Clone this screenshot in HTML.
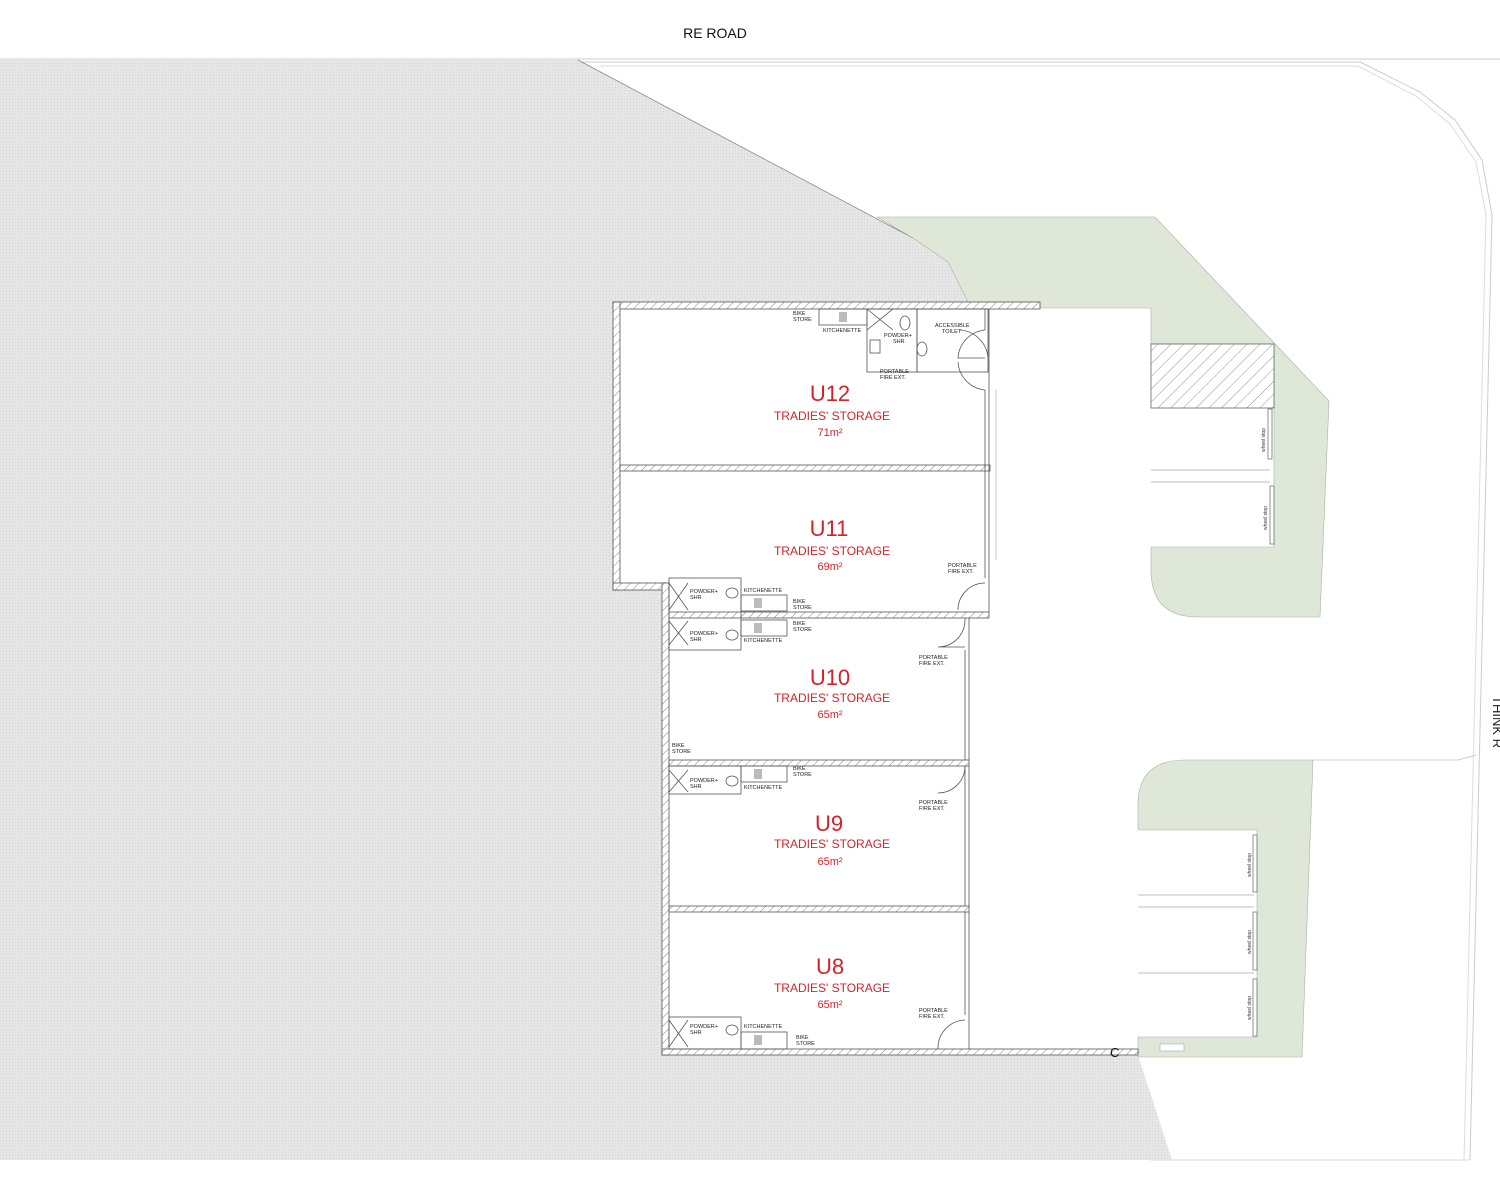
<!DOCTYPE html>
<html><head><meta charset="utf-8"><style>
html,body{margin:0;padding:0;background:#fff;}
svg{display:block;}
text{font-family:"Liberation Sans",sans-serif;}
.s{font-size:5.5px;fill:#222;}
.u{font-size:22px;fill:#d2232a;}
.t{font-size:12px;fill:#d2232a;}
.a{font-size:11px;fill:#d2232a;}
</style></head><body>
<svg width="1500" height="1200" viewBox="0 0 1500 1200" xmlns="http://www.w3.org/2000/svg">
<defs>
<pattern id="h" width="6" height="6" patternUnits="userSpaceOnUse" patternTransform="rotate(45)">
<rect width="6" height="6" fill="#fff"/><line x1="0" y1="0" x2="0" y2="6" stroke="#666" stroke-width="0.8"/>
</pattern>
<pattern id="hb" width="9" height="9" patternUnits="userSpaceOnUse" patternTransform="rotate(45)">
<rect width="9" height="9" fill="#fff"/><line x1="0" y1="0" x2="0" y2="9" stroke="#777" stroke-width="0.8"/>
</pattern>
<pattern id="g" width="3" height="3" patternUnits="userSpaceOnUse">
<rect width="3" height="3" fill="#e6e6e6"/><rect width="1" height="1" fill="#d4d4d4"/>
</pattern>
</defs>
<rect width="1500" height="1200" fill="#fff"/>
<text x="715" y="38" font-size="14" text-anchor="middle" fill="#111">RE ROAD</text>
<line x1="0" y1="59" x2="1500" y2="59" stroke="#ccc" stroke-width="1"/>
<path d="M580 62 L1360 62 L1420 92 L1455 120 L1482 160 L1492 215 L1470 1160" fill="none" stroke="#ccc" stroke-width="1"/>
<path d="M600 66 L1358 66 L1416 96 L1450 124 L1476 162 L1486 215 L1464 1160" fill="none" stroke="#ddd" stroke-width="1"/>
<path d="M1313 760 L1458 760 L1476 755" fill="none" stroke="#ccc" stroke-width="1"/>
<line x1="1150" y1="1160" x2="1470" y2="1160" stroke="#ddd"/>
<text transform="translate(1493,696) rotate(90)" font-size="13" fill="#222">THINK R</text>
<polygon points="0,60 578,60 913,238 948,262 968,302 613,302 613,590 662,590 662,1055 1138,1055 1172,1160 0,1160" fill="url(#g)"/>
<line x1="578" y1="60" x2="913" y2="238" stroke="#888" stroke-width="0.8"/>
<path d="M877,217 L1155,217 L1329,401 L1320,617 L1198,617 Q1151,617 1151,570 L1151,547 L1274,547 L1274,344 L1151,344 L1151,308 L1040,308 L1040,302 L968,302 L948,262 L913,238 Z" fill="#dfe8d8" stroke="#a9b0a4" stroke-width="0.6"/>
<rect x="1151" y="344" width="123" height="64" fill="url(#hb)" stroke="#666" stroke-width="0.8"/>
<path d="M1138,830 L1138,805 Q1138,760 1185,760 L1313,760 L1302,1057 L1138,1057 L1138,1037 L1257,1037 L1257,830 Z" fill="#dfe8d8" stroke="#a9b0a4" stroke-width="0.6"/>
<rect x="1160" y="1044" width="24" height="7" fill="#fff" stroke="#aaa" stroke-width="0.6"/>
<g stroke="#aaa" stroke-width="0.8">
<line x1="1151" y1="470" x2="1270" y2="470"/><line x1="1151" y1="482" x2="1270" y2="482"/>
<line x1="1138" y1="895" x2="1254" y2="895"/><line x1="1138" y1="907" x2="1254" y2="907"/>
<line x1="1138" y1="973" x2="1254" y2="973"/>
</g>
<g fill="none" stroke="#777" stroke-width="0.8">
<rect x="1268" y="409" width="4" height="50"/><rect x="1270" y="486" width="4" height="58"/>
<rect x="1253" y="835" width="4" height="57"/><rect x="1253" y="912" width="4" height="58"/><rect x="1253" y="979" width="4" height="57"/>
</g>
<g font-size="5" fill="#333">
<text transform="translate(1265,440) rotate(-90)" text-anchor="middle">wheel stop</text>
<text transform="translate(1267,518) rotate(-90)" text-anchor="middle">wheel stop</text>
<text transform="translate(1251,865) rotate(-90)" text-anchor="middle">wheel stop</text>
<text transform="translate(1251,942) rotate(-90)" text-anchor="middle">wheel stop</text>
<text transform="translate(1251,1008) rotate(-90)" text-anchor="middle">wheel stop</text>
</g>
<polygon points="613,302 990,302 990,612 970,612 970,1055 662,1055 662,590 613,590" fill="#fff"/>
<g fill="url(#h)" stroke="#555" stroke-width="0.8">
<rect x="613" y="302" width="427" height="7"/>
<rect x="613" y="302" width="7" height="288"/>
<rect x="613" y="583" width="56" height="7"/>
<rect x="662" y="583" width="7" height="472"/>
<rect x="620" y="465" width="370" height="6"/>
<rect x="669" y="612" width="320" height="6"/>
<rect x="669" y="760" width="300" height="6"/>
<rect x="669" y="906" width="300" height="6"/>
<rect x="662" y="1049" width="476" height="6"/>
</g>
<g stroke="#555" stroke-width="0.8" fill="none">
<line x1="985" y1="309" x2="985" y2="330"/><line x1="985" y1="390" x2="985" y2="578"/>
<line x1="989" y1="309" x2="989" y2="612"/>
<line x1="965" y1="618" x2="965" y2="620"/><line x1="965" y1="650" x2="965" y2="760"/>
<line x1="969" y1="618" x2="969" y2="760"/>
<line x1="965" y1="766" x2="965" y2="906"/><line x1="969" y1="766" x2="969" y2="906"/>
<line x1="965" y1="912" x2="965" y2="1015"/><line x1="969" y1="912" x2="969" y2="1049"/>
<line x1="996" y1="390" x2="996" y2="560" stroke="#bbb"/>
<path d="M985 330 A30 30 0 0 0 958 358 L985 358"/>
<path d="M985 390 A30 30 0 0 1 958 362"/>
<path d="M985 583 A27 27 0 0 0 958 610"/>
<path d="M965 620 A27 27 0 0 1 938 647 L965 647"/>
<path d="M965 766 A27 27 0 0 1 938 793"/>
<path d="M965 1020 A28 28 0 0 0 938 1049"/>
<rect x="819" y="309" width="48" height="16"/>
<rect x="867" y="309" width="50" height="63"/>
<line x1="867" y1="309" x2="893" y2="330"/><line x1="893" y1="309" x2="867" y2="330"/>
<rect x="917" y="309" width="71" height="63"/>
<ellipse cx="905" cy="323" rx="5" ry="7"/>
<rect x="870" y="340" width="10" height="13"/>
<ellipse cx="922" cy="349" rx="5" ry="7"/>
<path d="M960 330 A30 30 0 0 1 988 358"/>
<rect x="669" y="578" width="72" height="72"/>
<line x1="669" y1="583" x2="688" y2="610"/><line x1="688" y1="583" x2="669" y2="610"/>
<line x1="669" y1="621" x2="688" y2="645"/><line x1="688" y1="621" x2="669" y2="645"/>
<rect x="741" y="595" width="46" height="16"/><rect x="741" y="620" width="46" height="16"/>
<ellipse cx="732" cy="593" rx="6" ry="5"/><ellipse cx="732" cy="635" rx="6" ry="5"/>
<rect x="669" y="766" width="72" height="28"/>
<line x1="669" y1="770" x2="688" y2="792"/><line x1="688" y1="770" x2="669" y2="792"/>
<rect x="741" y="766" width="46" height="16"/>
<ellipse cx="732" cy="781" rx="6" ry="5"/>
<rect x="669" y="1017" width="72" height="32"/>
<line x1="669" y1="1020" x2="688" y2="1047"/><line x1="688" y1="1020" x2="669" y2="1047"/>
<rect x="741" y="1032" width="46" height="17"/>
<ellipse cx="732" cy="1030" rx="6" ry="5"/>
</g>
<g fill="#bbb"><rect x="839" y="312" width="8" height="10"/><rect x="754" y="598" width="8" height="10"/><rect x="754" y="623" width="8" height="10"/><rect x="754" y="769" width="8" height="10"/><rect x="754" y="1035" width="8" height="10"/></g>
<g class="s">
<text x="793" y="315">BIKE</text><text x="793" y="321">STORE</text>
<text x="823" y="332">KITCHENETTE</text>
<text x="884" y="337">POWDER+</text><text x="893" y="343">SHR</text>
<text x="935" y="327">ACCESSIBLE</text><text x="942" y="333">TOILET</text>
<text x="880" y="373">PORTABLE</text><text x="880" y="379">FIRE EXT.</text>
<text x="948" y="567">PORTABLE</text><text x="948" y="573">FIRE EXT.</text>
<text x="690" y="593">POWDER+</text><text x="690" y="599">SHR</text>
<text x="744" y="592">KITCHENETTE</text>
<text x="793" y="603">BIKE</text><text x="793" y="609">STORE</text>
<text x="793" y="625">BIKE</text><text x="793" y="631">STORE</text>
<text x="690" y="635">POWDER+</text><text x="690" y="641">SHR</text>
<text x="744" y="642">KITCHENETTE</text>
<text x="919" y="659">PORTABLE</text><text x="919" y="665">FIRE EXT.</text>
<text x="672" y="747">BIKE</text><text x="672" y="753">STORE</text>
<text x="793" y="770">BIKE</text><text x="793" y="776">STORE</text>
<text x="690" y="782">POWDER+</text><text x="690" y="788">SHR</text>
<text x="744" y="789">KITCHENETTE</text>
<text x="919" y="804">PORTABLE</text><text x="919" y="810">FIRE EXT.</text>
<text x="919" y="1012">PORTABLE</text><text x="919" y="1018">FIRE EXT.</text>
<text x="690" y="1028">POWDER+</text><text x="690" y="1034">SHR</text>
<text x="744" y="1028">KITCHENETTE</text>
<text x="796" y="1039">BIKE</text><text x="796" y="1045">STORE</text>
</g>
<g text-anchor="middle">
<text x="830" y="401" class="u">U12</text><text x="832" y="420" class="t">TRADIES' STORAGE</text><text x="830" y="436" class="a">71m²</text>
<text x="829" y="536" class="u">U11</text><text x="832" y="555" class="t">TRADIES' STORAGE</text><text x="830" y="570" class="a">69m²</text>
<text x="830" y="685" class="u">U10</text><text x="832" y="702" class="t">TRADIES' STORAGE</text><text x="830" y="718" class="a">65m²</text>
<text x="829" y="831" class="u">U9</text><text x="832" y="848" class="t">TRADIES' STORAGE</text><text x="830" y="865" class="a">65m²</text>
<text x="830" y="974" class="u">U8</text><text x="832" y="992" class="t">TRADIES' STORAGE</text><text x="830" y="1008" class="a">65m²</text>
</g>
<text x="1110" y="1057" font-size="13" fill="#111">C</text>
</svg>
</body></html>
